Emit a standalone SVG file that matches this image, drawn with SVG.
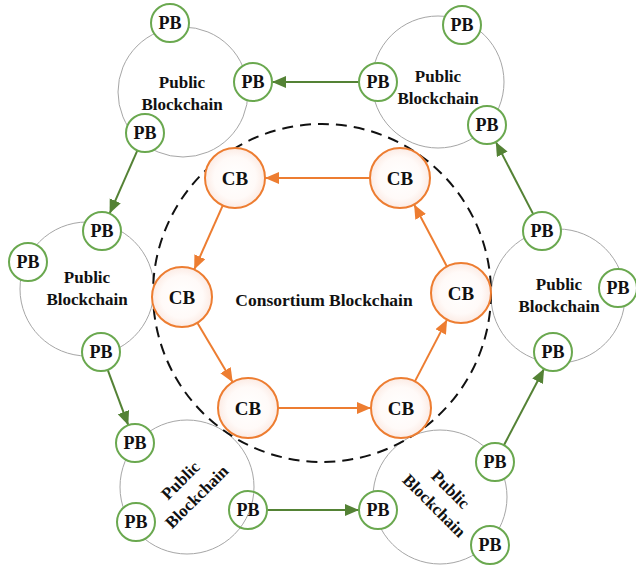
<svg xmlns="http://www.w3.org/2000/svg" width="636" height="566" viewBox="0 0 636 566">
<style>
.big{fill:none;stroke:#a6a6a6;stroke-width:1}
.pb{fill:#fff;stroke:#6aa84f;stroke-width:2}
.cb{fill:url(#cbg);stroke:#ed7d31;stroke-width:2}
text{font-family:"Liberation Serif","Times New Roman",serif;font-weight:bold;fill:#111;text-anchor:middle}
.t18{font-size:18px}
.t19{font-size:19px}
.lbl{font-size:17px}
.g{stroke:#548235;stroke-width:2;fill:none;marker-end:url(#ag)}
.o{stroke:#ed7d31;stroke-width:2;fill:none;marker-end:url(#ao)}
</style>
<defs>
<radialGradient id="cbg" cx="0.5" cy="0.5" r="0.5">
<stop offset="0" stop-color="#ffffff"/>
<stop offset="0.7" stop-color="#fffaf8"/>
<stop offset="1" stop-color="#fcebe4"/>
</radialGradient>
<marker id="ag" markerUnits="userSpaceOnUse" markerWidth="15" markerHeight="13" refX="14" refY="6" orient="auto"><path d="M0,0 L14,6 L0,12 z" fill="#548235"/></marker>
<marker id="ao" markerUnits="userSpaceOnUse" markerWidth="15" markerHeight="13" refX="14" refY="6" orient="auto"><path d="M0,0 L14,6 L0,12 z" fill="#ed7d31"/></marker>
</defs>
<g id="public-circles">
<circle class="big" cx="183" cy="92" r="65"/>
<circle class="big" cx="438" cy="82" r="66"/>
<circle class="big" cx="87" cy="289" r="67"/>
<circle class="big" cx="558" cy="296" r="67"/>
<circle class="big" cx="187" cy="487" r="67"/>
<circle class="big" cx="440" cy="497" r="67"/>
</g>
<g id="consortium">
<circle cx="322" cy="293" r="169" fill="none" stroke="#111" stroke-width="2" stroke-dasharray="11 7"/>
<text class="lbl" x="324" y="306" style="font-size:17.5px">Consortium Blockchain</text>
</g>
<g id="public-labels">
<text class="lbl" x="182" y="88">Public</text><text class="lbl" x="182" y="110">Blockchain</text>
<text class="lbl" x="438" y="82">Public</text><text class="lbl" x="438" y="104">Blockchain</text>
<text class="lbl" x="87" y="283">Public</text><text class="lbl" x="87" y="305">Blockchain</text>
<text class="lbl" x="559" y="290">Public</text><text class="lbl" x="559" y="312">Blockchain</text>
<g transform="translate(188,488) rotate(-45)"><text class="lbl" x="0" y="-5">Public</text><text class="lbl" x="0" y="18">Blockchain</text></g>
<g transform="translate(443,497) rotate(45)"><text class="lbl" x="0" y="-5">Public</text><text class="lbl" x="0" y="18">Blockchain</text></g>
</g>
<g id="connectors">
<line class="g" x1="359" y1="82" x2="272" y2="82"/>
<line class="g" x1="137.4" y1="150.4" x2="109.6" y2="213.6"/>
<line class="g" x1="107.7" y1="369.8" x2="128.3" y2="425.2"/>
<line class="g" x1="267" y1="510" x2="359" y2="510"/>
<line class="g" x1="503.9" y1="445.2" x2="544.1" y2="368.8"/>
<line class="g" x1="533.2" y1="214.1" x2="495.8" y2="141.9"/>
<line class="o" x1="370" y1="178" x2="265" y2="178"/>
<line class="o" x1="222.8" y1="205.4" x2="194.2" y2="269.6"/>
<line class="o" x1="197.3" y1="322.8" x2="232.7" y2="382.2"/>
<line class="o" x1="278" y1="408" x2="371" y2="408"/>
<line class="o" x1="414.9" y1="381.4" x2="447.1" y2="319.6"/>
<line class="o" x1="446.9" y1="266.5" x2="414.1" y2="204.5"/>
</g>
<g id="pb-tl-1"><circle class="pb" cx="170" cy="23" r="19"/><text class="t18" x="170" y="29">PB</text></g>
<g id="pb-tl-2"><circle class="pb" cx="253" cy="82" r="19"/><text class="t18" x="253" y="88">PB</text></g>
<g id="pb-tl-3"><circle class="pb" cx="145" cy="133" r="19"/><text class="t18" x="145" y="139">PB</text></g>
<g id="pb-tr-1"><circle class="pb" cx="462" cy="25" r="19"/><text class="t18" x="462" y="31">PB</text></g>
<g id="pb-tr-2"><circle class="pb" cx="378" cy="82" r="19"/><text class="t18" x="378" y="88">PB</text></g>
<g id="pb-tr-3"><circle class="pb" cx="487" cy="125" r="19"/><text class="t18" x="487" y="131">PB</text></g>
<g id="pb-l-1"><circle class="pb" cx="102" cy="231" r="19"/><text class="t18" x="102" y="237">PB</text></g>
<g id="pb-l-2"><circle class="pb" cx="28" cy="262" r="19"/><text class="t18" x="28" y="268">PB</text></g>
<g id="pb-l-3"><circle class="pb" cx="101" cy="352" r="19"/><text class="t18" x="101" y="358">PB</text></g>
<g id="pb-r-1"><circle class="pb" cx="542" cy="231" r="19"/><text class="t18" x="542" y="237">PB</text></g>
<g id="pb-r-2"><circle class="pb" cx="618" cy="288" r="19"/><text class="t18" x="618" y="294">PB</text></g>
<g id="pb-r-3"><circle class="pb" cx="553" cy="352" r="19"/><text class="t18" x="553" y="358">PB</text></g>
<g id="pb-bl-1"><circle class="pb" cx="135" cy="443" r="19"/><text class="t18" x="135" y="449">PB</text></g>
<g id="pb-bl-2"><circle class="pb" cx="136" cy="522" r="19"/><text class="t18" x="136" y="528">PB</text></g>
<g id="pb-bl-3"><circle class="pb" cx="248" cy="510" r="19" style="fill:none"/><text class="t18" x="248" y="516">PB</text></g>
<g id="pb-br-1"><circle class="pb" cx="495" cy="462" r="19"/><text class="t18" x="495" y="468">PB</text></g>
<g id="pb-br-2"><circle class="pb" cx="378" cy="510" r="19"/><text class="t18" x="378" y="516">PB</text></g>
<g id="pb-br-3"><circle class="pb" cx="490" cy="545" r="19"/><text class="t18" x="490" y="551">PB</text></g>
<g id="cb-1"><circle class="cb" cx="235" cy="178" r="30"/><text class="t19" x="235" y="185">CB</text></g>
<g id="cb-2"><circle class="cb" cx="400" cy="178" r="30"/><text class="t19" x="400" y="185">CB</text></g>
<g id="cb-3"><circle class="cb" cx="182" cy="297" r="30"/><text class="t19" x="182" y="304">CB</text></g>
<g id="cb-4"><circle class="cb" cx="461" cy="293" r="30"/><text class="t19" x="461" y="300">CB</text></g>
<g id="cb-5"><circle class="cb" cx="248" cy="408" r="30"/><text class="t19" x="248" y="415">CB</text></g>
<g id="cb-6"><circle class="cb" cx="401" cy="408" r="30"/><text class="t19" x="401" y="415">CB</text></g>
</svg>
